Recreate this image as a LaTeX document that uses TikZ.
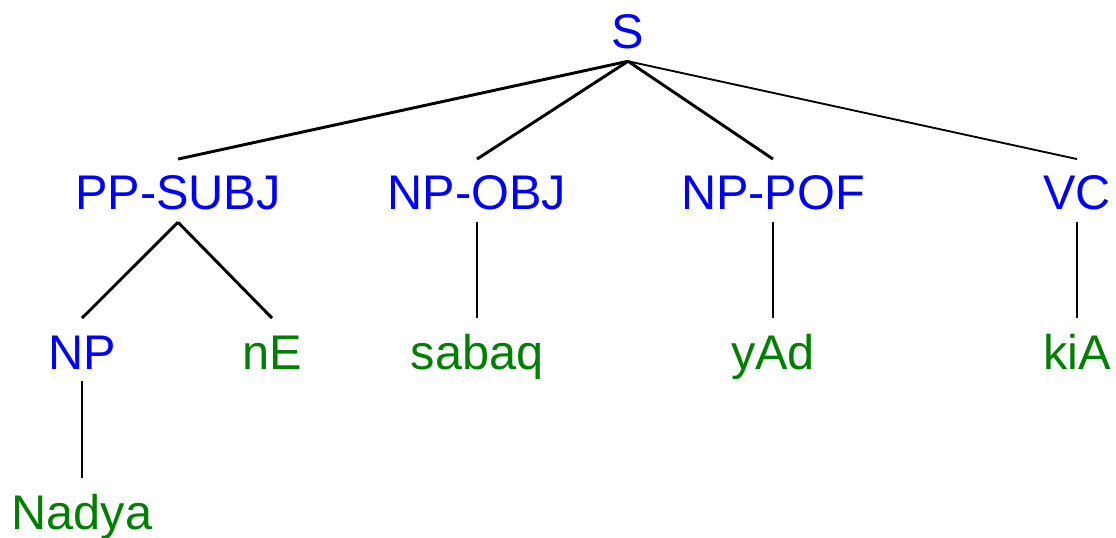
\documentclass[tikz,border=0pt]{standalone}
\usepackage{fontspec}
\setmainfont{Liberation Sans}
\usepackage{tikz}

\tikzset{
  cat/.style={anchor=base,inner xsep=0pt,inner ysep=6pt,text height=32pt,text depth=3pt,
    text={rgb,255:red,0;green,0;blue,255},font=\fontsize{36.5}{44}\selectfont},
  word/.style={cat,text={rgb,255:red,0;green,128;blue,0}},
  branch/.style={draw={rgb,255:red,0;green,0;blue,0},line width=2.2pt},
  leaf/.style={draw={rgb,255:red,0;green,0;blue,0},line width=1.4pt}
}

\begin{document}
\begin{tikzpicture}[x=0.75pt,y=0.75pt,yscale=-1,xscale=1]
\useasboundingbox (0,0) rectangle (1116,538);

% Text Node
\node [cat] (s) at (628,49) {S};
% Text Node
\node [cat] (ppsubj) at (178,210) {PP-SUBJ};
% Text Node
\node [cat] (npobj) at (477,210) {NP-OBJ};
% Text Node
\node [cat] (nppof) at (773,210) {NP-POF};
% Text Node
\node [cat] (vc) at (1077,210) {VC};
% Text Node
\node [cat] (np) at (82,369) {NP};
% Text Node
\node [word] (ne) at (272,369) {nE};
% Text Node
\node [word] (sabaq) at (477,369) {sabaq};
% Text Node
\node [word] (yad) at (773,369) {yAd};
% Text Node
\node [word] (kia) at (1077,369) {kiA};
% Text Node
\node [word] (nadya) at (82,529) {Nadya};

%Straight Lines
\draw [branch] (s.south) -- (ppsubj.north) ;
\draw [branch] (s.south) -- (npobj.north) ;
\draw [branch] (s.south) -- (nppof.north) ;
\draw [leaf] (s.south) -- (vc.north) ;
%Straight Lines
\draw [branch] (ppsubj.south) -- (np.north) ;
\draw [branch] (ppsubj.south) -- (ne.north) ;
\draw [leaf] (npobj.south) -- (sabaq.north) ;
\draw [leaf] (nppof.south) -- (yad.north) ;
\draw [leaf] (vc.south) -- (kia.north) ;
\draw [leaf] (np.south) -- (nadya.north) ;

\end{tikzpicture}
\end{document}
